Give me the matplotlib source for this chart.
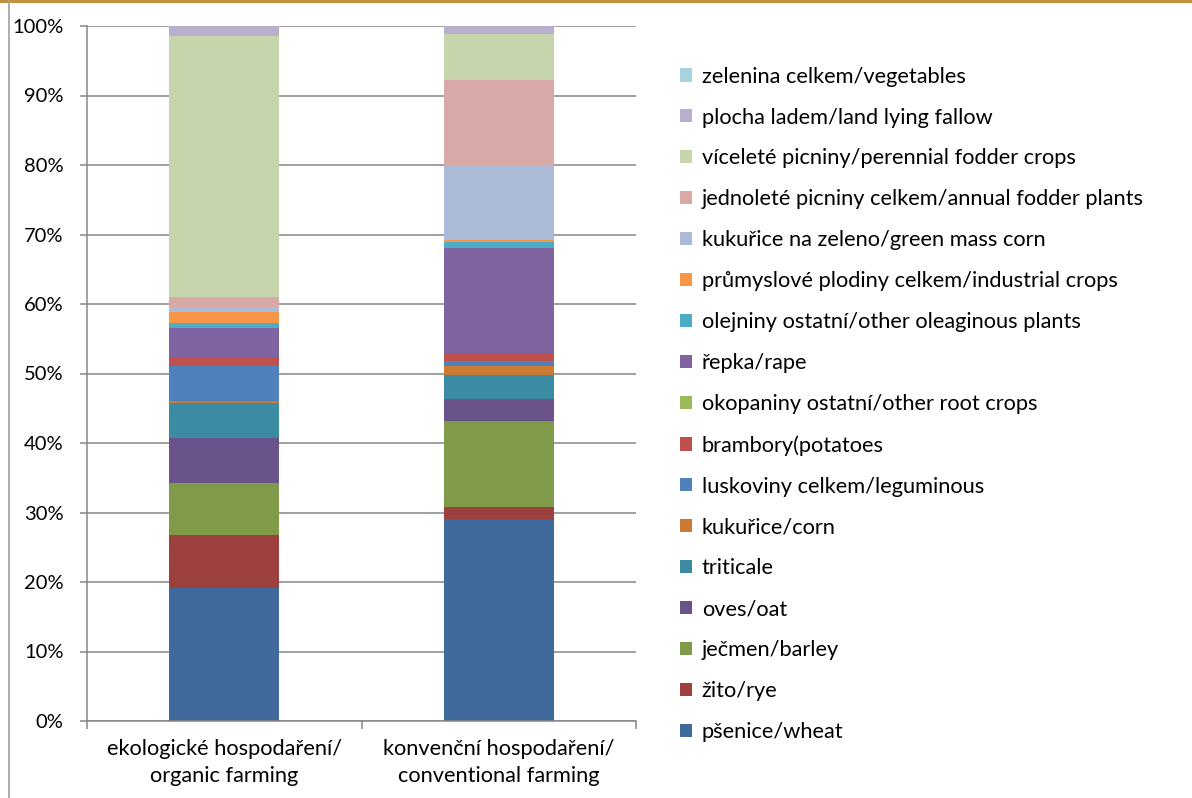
import matplotlib.pyplot as plt
import numpy as np
from matplotlib.lines import Line2D
from matplotlib.patches import Patch

plt.rcParams['font.family'] = ['Lato', 'DejaVu Sans']

categories = ['ekologické hospodaření/\norganic farming',
              'konvenční hospodaření/\nconventional farming']

# series from bottom to top, shares in % (organic, conventional)
series_names = ['pšenice/wheat', 'žito/rye', 'ječmen/barley', 'oves/oat',
                'triticale', 'kukuřice/corn', 'luskoviny celkem/leguminous',
                'brambory(potatoes', 'okopaniny ostatní/other root crops',
                'řepka/rape', 'olejniny ostatní/other oleaginous plants',
                'průmyslové plodiny celkem/industrial crops',
                'kukuřice na zeleno/green mass corn',
                'jednoleté picniny celkem/annual fodder plants',
                'víceleté picniny/perennial fodder crops',
                'plocha ladem/land lying fallow',
                'zelenina celkem/vegetables']
organic = [19.1, 7.7, 7.4, 6.5, 5.1, 0.3, 5.0, 1.1, 0.0, 4.3, 0.7, 1.6,
           0.7, 1.5, 37.5, 1.5, 0.0]
conventional = [29.1, 1.65, 12.45, 3.2, 3.4, 1.3, 0.65, 1.15, 0.0, 15.2,
                0.8, 0.3, 10.8, 12.3, 6.55, 1.15, 0.0]

colors = ['#406A9C', '#9C413E', '#7F9A48', '#69538A', '#3B8CA3', '#CB7A34',
          '#4F81BD', '#C0504D', '#9BBB59', '#8064A2', '#4BACC6', '#F79646',
          '#AABAD7', '#D9A9A8', '#C7D5AD', '#B9AFCC', '#A8D2DF']

W, H = 1192, 798
fig = plt.figure(figsize=(W / 100, H / 100), dpi=100)
ax = fig.add_axes([87 / W, (H - 721) / H, 549 / W, 695 / H])

x = np.arange(len(categories))
bottom = np.zeros(len(categories))
handles = []
for name, o, c, col in zip(series_names, organic, conventional, colors):
    vals = np.array([o, c])
    ax.bar(x, vals, 0.4, bottom=bottom, color=col, linewidth=0)
    bottom += vals
    handles.append(Patch(facecolor=col, edgecolor='none', label=name))

grey = '#868686'
ax.set_xlim(-0.5, 1.5)
ax.set_ylim(0, 100)
ax.set_yticks(np.arange(0, 101, 10))
ax.set_yticklabels([f'{v}%' for v in range(0, 101, 10)])
ax.yaxis.grid(True, color=grey, linewidth=1.1)
ax.set_axisbelow(True)
for s in ['top', 'right']:
    ax.spines[s].set_visible(False)
for s in ['left', 'bottom']:
    ax.spines[s].set_color(grey)
    ax.spines[s].set_linewidth(1.1)

ax.set_xticks(x)
ax.set_xticklabels(categories, linespacing=1.45)
ax.set_xticks([-0.5, 0.5, 1.5], minor=True)
ax.tick_params(axis='x', which='major', length=0, pad=13, labelsize=15.7)
ax.tick_params(axis='x', which='minor', length=6, color=grey, width=1.1)
ax.tick_params(axis='y', length=5, color=grey, width=1.1, pad=12, labelsize=14.5)

fig.legend(handles[::-1], [h.get_label() for h in handles[::-1]],
           loc='upper left', bbox_to_anchor=(660 / W, 1 - 47 / H),
           frameon=False, fontsize=15.7, labelspacing=0.96,
           handlelength=0.56, handleheight=0.56, handletextpad=0.45)

fig.add_artist(Line2D([0, 1], [1 - 1 / H, 1 - 1 / H], color='#C0913F', linewidth=2.2))
fig.add_artist(Line2D([8.5 / W, 8.5 / W], [0, 1], color='#A0A0A0', linewidth=1.2))

fig.savefig('out.png', dpi=100)
